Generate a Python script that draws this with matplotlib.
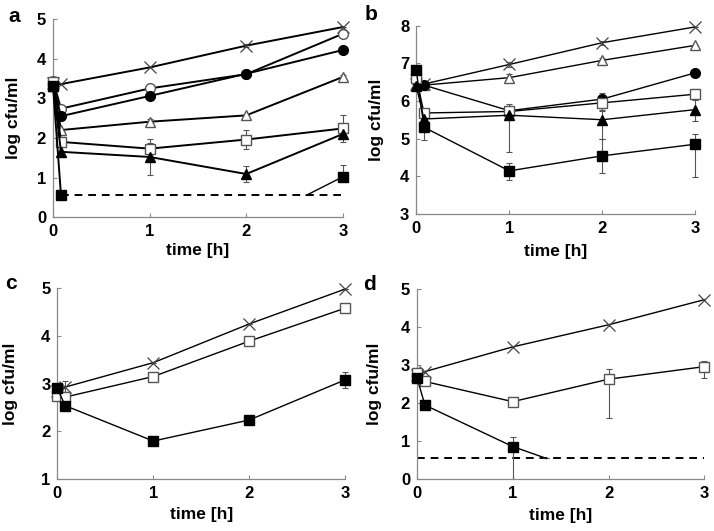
import numpy as np
import matplotlib
matplotlib.use('Agg')
from matplotlib import pyplot as plt

plt.rcParams['font.family'] = ['Liberation Sans', 'DejaVu Sans']
plt.rcParams['font.weight'] = 'bold'

t = [0, 0.083, 1, 2, 3]
LOD = 0.55  # detection limit

# ---- panel a ----
a_cross = [3.38, 3.36, 3.78, 4.33, 4.80]
a_ocirc = [3.45, 2.74, 3.25, 3.61, 4.63]
a_fcirc = [3.35, 2.55, 3.06, 3.62, 4.22]
a_otri = [3.38, 2.20, 2.41, 2.57, 3.54]
a_osq = [3.42, 1.90, 1.73, 1.96, 2.24]
a_ftri = [3.32, 1.65, 1.52, 1.09, 2.10]
a_fsq = [3.32, 0.55, np.nan, np.nan, 1.02]
a_fsq_tail_t = [2.62, 3]
a_fsq_tail_y = [0.55, 1.02]
a_err = {
    'otri': [0, 0, 0.08, 0, 0.05],
    'osq': [0, 0.1, 0.14, 0.24, 0.35],
    'ftri': [0, 0, 0.46, 0.2, 0.1],
    'fsq': [0, 0, 0, 0, 0.29],
    'cross': [0, 0, 0, 0.04, 0],
}

# ---- panel b ----
b_cross = [6.45, 6.45, 6.97, 7.55, 7.97]
b_otri = [6.45, 6.42, 6.62, 7.08, 7.48]
b_fcirc = [6.55, 6.42, 5.74, 6.05, 6.75]
b_osq = [6.62, 5.68, 5.72, 5.95, 6.18]
b_ftri = [6.40, 5.52, 5.62, 5.50, 5.77]
b_fsq = [6.82, 5.30, 4.14, 4.54, 4.85]
b_err_lo = {
    'cross': [0, 0, 0.07, 0.05, 0],
    'otri': [0, 0, 0.1, 0.05, 0],
    'fcirc': [0, 0, 0, 0.15, 0],
    'osq': [0, 0.08, 0.15, 0.2, 0.13],
    'ftri': [0, 0, 0.97, 0.5, 0.3],
    'fsq': [0, 0.35, 0.24, 0.45, 0.87],
}
b_err_hi = {
    'cross': [0, 0, 0.07, 0.05, 0],
    'otri': [0, 0, 0.1, 0.05, 0],
    'fcirc': [0, 0, 0, 0.15, 0],
    'osq': [0, 0.08, 0.15, 0.2, 0.13],
    'ftri': [0, 0, 0.3, 0.22, 0.25],
    'fsq': [0, 0.2, 0.2, 0.45, 0.27],
}

# ---- panel c ----
c_cross = [2.85, 2.93, 3.44, 4.25, 4.98]
c_osq = [2.75, 2.72, 3.15, 3.89, 4.58]
c_fsq = [2.90, 2.54, 1.80, 2.24, 3.08]
c_err = {
    'cross': [0, 0.12, 0, 0, 0],
    'osq': [0, 0.1, 0.04, 0.05, 0.04],
    'fsq': [0, 0.1, 0.07, 0.04, 0.16],
}

# ---- panel d ----
d_cross = [2.75, 2.83, 3.48, 4.06, 4.72]
d_osq = [2.78, 2.57, 2.04, 2.63, 2.96]
d_osq_lo = [0, 0.05, 0.08, 1.01, 0.3]
d_osq_hi = [0, 0.05, 0.08, 0.26, 0.16]
d_fsq_t = [0, 0.083, 1, 1.35]
d_fsq = [2.67, 1.95, 0.86, 0.55]
d_fsq_lo = [0, 0, 0.86, 0]
d_fsq_hi = [0, 0, 0.24, 0]

STY = {
    'cross': dict(marker='x', mfc='none', mec='#444444', ms=8, mew=0.9),
    'ocirc': dict(marker='o', mfc='white', mec='#555555', ms=7, mew=1.0),
    'fcirc': dict(marker='o', mfc='black', mec='black', ms=7),
    'otri': dict(marker='^', mfc='white', mec='#555555', ms=7.5, mew=1.0),
    'ftri': dict(marker='^', mfc='black', mec='black', ms=7.5),
    'osq': dict(marker='s', mfc='white', mec='#555555', ms=7, mew=1.0),
    'fsq': dict(marker='s', mfc='black', mec='black', ms=7),
}


def series(ax, x, y, key, lo=None, hi=None, lw=1.0):
    if lo is not None:
        ax.errorbar(x, y, yerr=[lo, hi], fmt='none', ecolor='#555555',
                    elinewidth=0.8, capsize=2.5, capthick=0.8, clip_on=False, zorder=2)
    ax.plot(x, y, color='black', lw=lw, clip_on=False, zorder=3, **STY[key])


def style(ax, ylim, yticks, ylab_x, xlab_y):
    ax.set_xlim(0, 3)
    ax.set_ylim(*ylim)
    ax.set_xticks([0, 1, 2, 3])
    ax.set_yticks(yticks)
    for s in ['top', 'right']:
        ax.spines[s].set_visible(False)
    for s in ['left', 'bottom']:
        ax.spines[s].set_color('#888888')
        ax.spines[s].set_linewidth(0.9)
    ax.tick_params(direction='in', length=3, color='#888888', labelsize=12, pad=5)
    for lab in ax.get_xticklabels() + ax.get_yticklabels():
        lab.set_fontweight('bold')
    ax.set_ylabel('log cfu/ml', fontsize=12.5, fontweight='bold')
    ax.set_xlabel('time [h]', fontsize=12.5, fontweight='bold', va='top')
    ax.yaxis.set_label_coords(ylab_x, 0.5)
    ax.xaxis.set_label_coords(0.5, xlab_y)


fig = plt.figure(figsize=(7.14, 5.31), dpi=100)
ax_a = fig.add_axes([0.0742, 0.591, 0.406, 0.373])
ax_b = fig.add_axes([0.583, 0.5975, 0.391, 0.354])
ax_c = fig.add_axes([0.0803, 0.0974, 0.403, 0.36])
ax_d = fig.add_axes([0.584, 0.0974, 0.4024, 0.3583])

# a
ax_a.plot([t[1], 3], [LOD, LOD], color='black', lw=1.4, ls=(0, (4, 3)), zorder=1)
series(ax_a, t, a_cross, 'cross', a_err['cross'], a_err['cross'], lw=1.4)
series(ax_a, t, a_ocirc, 'ocirc', lw=1.4)
series(ax_a, t, a_fcirc, 'fcirc', lw=1.4)
series(ax_a, t, a_otri, 'otri', a_err['otri'], a_err['otri'], lw=1.4)
series(ax_a, t, a_osq, 'osq', a_err['osq'], a_err['osq'], lw=1.4)
series(ax_a, t, a_ftri, 'ftri', a_err['ftri'], a_err['ftri'], lw=1.4)
series(ax_a, t, a_fsq, 'fsq', [0] * 5, a_err['fsq'], lw=1.4)
ax_a.plot(a_fsq_tail_t, a_fsq_tail_y, color='black', lw=1.0, zorder=2)
style(ax_a, (0, 5), range(0, 6), -0.11, -0.13)

# b
series(ax_b, t, b_cross, 'cross', b_err_lo['cross'], b_err_hi['cross'])
series(ax_b, t, b_otri, 'otri', b_err_lo['otri'], b_err_hi['otri'])
series(ax_b, t, b_fcirc, 'fcirc', b_err_lo['fcirc'], b_err_hi['fcirc'])
series(ax_b, t, b_osq, 'osq', b_err_lo['osq'], b_err_hi['osq'])
series(ax_b, t, b_ftri, 'ftri', b_err_lo['ftri'], b_err_hi['ftri'])
series(ax_b, t, b_fsq, 'fsq', b_err_lo['fsq'], b_err_hi['fsq'])
style(ax_b, (3, 8), range(3, 9), -0.115, -0.16)

# c
series(ax_c, t, c_cross, 'cross', c_err['cross'], c_err['cross'])
series(ax_c, t, c_osq, 'osq', c_err['osq'], c_err['osq'])
series(ax_c, t, c_fsq, 'fsq', c_err['fsq'], c_err['fsq'])
style(ax_c, (1, 5), range(1, 6), -0.135, -0.143)

# d
ax_d.plot([0, 3], [LOD, LOD], color='black', lw=1.4, ls=(0, (4, 3)), zorder=1)
series(ax_d, t, d_cross, 'cross')
series(ax_d, t, d_osq, 'osq', d_osq_lo, d_osq_hi)
ax_d.errorbar(d_fsq_t, d_fsq, yerr=[d_fsq_lo, d_fsq_hi], fmt='none', ecolor='#555555',
              elinewidth=0.8, capsize=2.5, capthick=0.8, zorder=2)
ax_d.plot(d_fsq_t, d_fsq, color='black', lw=1.0, zorder=3, markevery=[0, 1, 2],
          clip_on=False, **STY['fsq'])
style(ax_d, (0, 5), range(0, 6), -0.122, -0.153)

for x, y, s in [(0.02, 0.968, 'a'), (0.52, 0.972, 'b'), (0.016, 0.467, 'c'), (0.518, 0.465, 'd')]:
    fig.text(x, y, s, fontsize=15, fontweight='bold', ha='center', va='center')

fig.savefig('out.png', dpi=100)
